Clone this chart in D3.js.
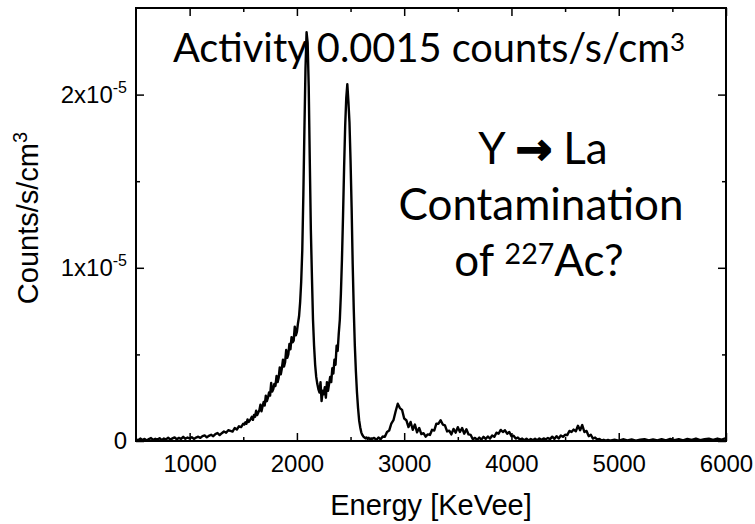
<!DOCTYPE html>
<html><head><meta charset="utf-8">
<script src="https://cdn.jsdelivr.net/npm/d3@7"></script>
<style>body{margin:0;background:#fff}</style>
</head><body>
<svg id="chart" width="755" height="524"></svg>
<script>
// values in units of 1e-5 counts/s/cm^3 ; energy in keVee
const lowTail = [[500,.010],[520,.004],[540,.014],[560,.006],[580,.012],[600,.003],[620,.011],[640,.017],[660,.006],[680,.013],[700,.008],[720,.016],[740,.005],[760,.014],[780,.009],[800,.019],[820,.008],[840,.015],[860,.021],[880,.010],[900,.018],[920,.012],[940,.024],[960,.013],[980,.020],[1000,.015]];
const riseFlank = [[1020,.022],[1040,.012],[1060,.020],[1080,.025],[1100,.018],[1120,.028],[1140,.032],[1160,.021],[1180,.030],[1200,.036],[1220,.028],[1240,.040],[1260,.046],[1280,.034],[1300,.045],[1320,.055],[1340,.048],[1360,.062],[1380,.058],[1400,.054],[1420,.075],[1440,.066],[1460,.085],[1480,.080],[1500,.100],
 [1510,.095],[1520,.108],[1530,.100],[1540,.125],[1550,.110],[1560,.118],[1570,.128],[1580,.140],[1590,.122],[1600,.150],[1610,.140],[1620,.175],[1630,.150],[1640,.165],[1650,.178],[1660,.210],[1670,.172],[1680,.200],[1690,.225],[1700,.205],[1710,.262],[1720,.230],[1730,.250],[1740,.280],[1750,.262],[1760,.335],[1770,.285],[1780,.300],[1790,.330],[1800,.318],[1810,.375],[1820,.340],[1830,.365],[1840,.425],[1850,.385],[1860,.420],[1870,.470],[1880,.430],[1890,.455],[1900,.525]];
const mainPeaks = [[1910,.48],[1920,.50],[1930,.56],[1940,.53],[1950,.60],[1960,.57],[1970,.58],[1980,.66],[1990,.61],[2000,.63],[2010,.68],[2020,.72],[2030,.80],[2040,.92],[2050,1.10],[2060,1.42],[2070,1.80],[2080,2.15],[2090,2.36],[2100,2.30],[2110,2.05],[2120,1.62],[2130,1.22],[2140,.95],[2150,.70],[2160,.55],[2170,.44],[2180,.37],[2190,.33],[2200,.30],[2210,.28],[2220,.34],[2230,.23],[2240,.29],[2250,.27],[2260,.31],[2270,.25],[2280,.34],[2290,.29],[2300,.33],[2310,.37],[2320,.34],[2330,.42],[2340,.39],[2350,.47],[2360,.44],[2370,.55],[2380,.52],[2390,.62],[2400,.70],[2410,.85],[2420,1.05],[2430,1.30],[2440,1.58],[2450,1.82],[2460,1.98],[2470,2.06],[2480,1.96],[2490,1.84],[2500,1.62],[2510,1.35],[2520,1.02],[2530,.76],[2540,.55],[2550,.40],[2560,.28],[2570,.19],[2580,.12],[2590,.08],[2600,.05],[2610,.035],[2620,.025],[2630,.02],[2640,.015],[2650,.02],[2660,.012],[2670,.018],[2680,.01],[2690,.015],[2700,.012]];
const highTail = [[2720,.018],[2740,.006],[2760,.020],[2780,.010],[2800,.026],[2820,.024],[2840,.052],[2860,.060],[2880,.100],[2900,.120],[2920,.170],[2940,.215],[2960,.190],[2980,.180],[3000,.130],[3020,.120],[3040,.080],[3060,.110],[3080,.065],[3100,.095],[3120,.050],[3140,.075],[3160,.040],[3180,.045],[3200,.025],[3220,.038],[3240,.035],[3260,.065],[3280,.060],[3300,.100],[3320,.100],[3340,.120],[3360,.095],[3380,.090],[3400,.055],[3420,.060],[3440,.038],[3460,.070],[3480,.048],[3500,.080],[3520,.052],[3540,.075],[3560,.042],[3580,.068],[3600,.038],[3620,.035],[3640,.010],[3660,.018],[3680,.006],[3700,.020],[3720,.008],[3740,.024],[3760,.012],[3780,.026],[3800,.014],[3820,.032],[3840,.024],[3860,.048],[3880,.042],[3900,.064],[3920,.052],[3940,.062],[3960,.042],[3980,.052],[4000,.028],[4020,.030],[4040,.014],[4060,.020],[4080,.008],[4100,.014],[4120,.004],[4140,.013],[4160,.003],[4180,.012],[4200,.004],[4220,.013],[4240,.005],[4260,.015],[4280,.006],[4300,.015],[4320,.010],[4340,.017],[4360,.011],[4380,.025],[4400,.012],[4420,.028],[4440,.014],[4460,.032],[4480,.024],[4500,.036],[4520,.034],[4540,.058],[4560,.052],[4580,.066],[4600,.056],[4620,.088],[4640,.062],[4660,.092],[4680,.052],[4700,.058],[4720,.028],[4740,.036],[4760,.014],[4780,.020],[4800,.008],[4820,.012],[4840,.003],[4860,.007],[4880,.002],[4900,.006],[4920,.002],[4960,.008],[5000,.002],[5040,.010],[5080,.004],[5120,.009],[5160,.002],[5200,.008],[5240,.011],[5280,.003],[5320,.009],[5360,.003],[5400,.010],[5440,.004],[5480,.012],[5520,.005],[5560,.011],[5600,.004],[5640,.012],[5680,.006],[5720,.014],[5760,.005],[5800,.011],[5840,.013],[5880,.006],[5920,.014],[5960,.008],[6000,.016]];

const xMajorTicks = [1000,2000,3000,4000,5000,6000];
const xMinorTicks = [1500,2500,3500,4500,5500];
const yMajorTicks = [0,1,2];
const yMinorTicks = [0.5,1.5];
const xDomain = [500,6000];
const yDomain = [0,2.5];
const titleText = "Activity 0.0015 counts/s/cm";
const noteLines = ["Contamination"];

const spectrum = lowTail.concat(riseFlank, mainPeaks, highTail);

const svg = d3.select("#chart");
const L=136, R=726, T=8, B=441;
const x = d3.scaleLinear().domain(xDomain).range([L,R]);
const y = d3.scaleLinear().domain(yDomain).range([B,T]);
const axisFont = "'Liberation Sans', Arial, sans-serif";
const textFont = "Lato, 'Open Sans', sans-serif";

function styleAxis(g){ g.select(".domain").remove(); g.selectAll("line").attr("stroke","#000").attr("stroke-width",1.5); }

// bottom
svg.append("g").attr("transform",`translate(0,${B})`)
  .call(d3.axisBottom(x).tickValues(xMajorTicks).tickSizeInner(-8).tickSizeOuter(0).tickPadding(14).tickFormat(d3.format("d")))
  .call(styleAxis)
  .call(g=>g.selectAll("text").attr("font-family",axisFont).attr("font-size",24).attr("fill","#000"));
svg.append("g").attr("transform",`translate(0,${B})`)
  .call(d3.axisBottom(x).tickValues(xMinorTicks).tickSizeInner(-4).tickSizeOuter(0).tickFormat(""))
  .call(styleAxis);
// top
svg.append("g").attr("transform",`translate(0,${T})`)
  .call(d3.axisTop(x).tickValues(xMajorTicks).tickSizeInner(-8).tickSizeOuter(0).tickFormat(""))
  .call(styleAxis);
svg.append("g").attr("transform",`translate(0,${T})`)
  .call(d3.axisTop(x).tickValues(xMinorTicks).tickSizeInner(-4).tickSizeOuter(0).tickFormat(""))
  .call(styleAxis);
// left
svg.append("g").attr("transform",`translate(${L},0)`)
  .call(d3.axisLeft(y).tickValues(yMajorTicks).tickSizeInner(-8).tickSizeOuter(0).tickPadding(9).tickFormat(()=>""))
  .call(styleAxis)
  .call(g=>g.selectAll("text").each(function(d){
     const t=d3.select(this).attr("font-family",axisFont).attr("font-size",24).attr("fill","#000");
     if(d===0){ t.text("0"); }
     else { t.append("tspan").text(d+"x10"); t.append("tspan").attr("dy",-10).attr("font-size",16).text("-5"); }
  }));
svg.append("g").attr("transform",`translate(${L},0)`)
  .call(d3.axisLeft(y).tickValues(yMinorTicks).tickSizeInner(-4).tickSizeOuter(0).tickFormat(""))
  .call(styleAxis);
// right
svg.append("g").attr("transform",`translate(${R},0)`)
  .call(d3.axisRight(y).tickValues(yMajorTicks).tickSizeInner(-8).tickSizeOuter(0).tickFormat(""))
  .call(styleAxis);
svg.append("g").attr("transform",`translate(${R},0)`)
  .call(d3.axisRight(y).tickValues(yMinorTicks).tickSizeInner(-4).tickSizeOuter(0).tickFormat(""))
  .call(styleAxis);

// frame
svg.append("rect").attr("x",L).attr("y",T).attr("width",R-L).attr("height",B-T)
  .attr("fill","none").attr("stroke","#000").attr("stroke-width",2);

// spectrum
svg.append("path").datum(spectrum)
  .attr("d", d3.line().x(d=>x(d[0])).y(d=>y(d[1])))
  .attr("fill","none").attr("stroke","#000").attr("stroke-width",2.4).attr("stroke-linejoin","round");

// axis titles
svg.append("text").attr("x",(L+R)/2).attr("y",515).attr("text-anchor","middle")
  .attr("font-family",axisFont).attr("font-size",29).text("Energy [KeVee]");
const yt = svg.append("text").attr("transform","translate(38,218) rotate(-90)").attr("text-anchor","middle")
  .attr("font-family",axisFont).attr("font-size",29);
yt.append("tspan").text("Counts/s/cm");
yt.append("tspan").attr("dy",-11).attr("font-size",20).text("3");

// title annotation
function fit(sel, target){ const w = sel.node().getBBox().width; const fs = +sel.attr("font-size"); sel.attr("font-size", fs*target/w); }
const title = svg.append("text").attr("x",173).attr("y",62).attr("font-family",textFont).attr("font-size",40);
title.append("tspan").text(titleText);
title.append("tspan").attr("dy","-0.42em").attr("font-size","0.65em").text("3");
fit(title,512);

// right annotation
const n1 = svg.append("text").attr("x",543).attr("y",164).attr("text-anchor","middle").attr("font-family",textFont).attr("font-size",44);
n1.append("tspan").text("Y ");
n1.append("tspan").attr("font-family","'DejaVu Sans'").attr("font-weight","bold").attr("stroke","#000").attr("stroke-width",1.5).text("→");
n1.append("tspan").text(" La");
const n2 = svg.append("text").attr("x",541).attr("y",220).attr("text-anchor","middle").attr("font-family",textFont).attr("font-size",44).text(noteLines[0]);
fit(n2,285);
const fs2 = n2.attr("font-size");
n1.attr("font-size",fs2);
const n3 = svg.append("text").attr("x",539).attr("y",276).attr("text-anchor","middle").attr("font-family",textFont).attr("font-size",fs2);
n3.append("tspan").text("of ");
n3.append("tspan").attr("dy","-0.42em").attr("font-size","0.65em").text("227");
n3.append("tspan").attr("dy","0.273em").text("Ac?");
</script>
</body></html>
